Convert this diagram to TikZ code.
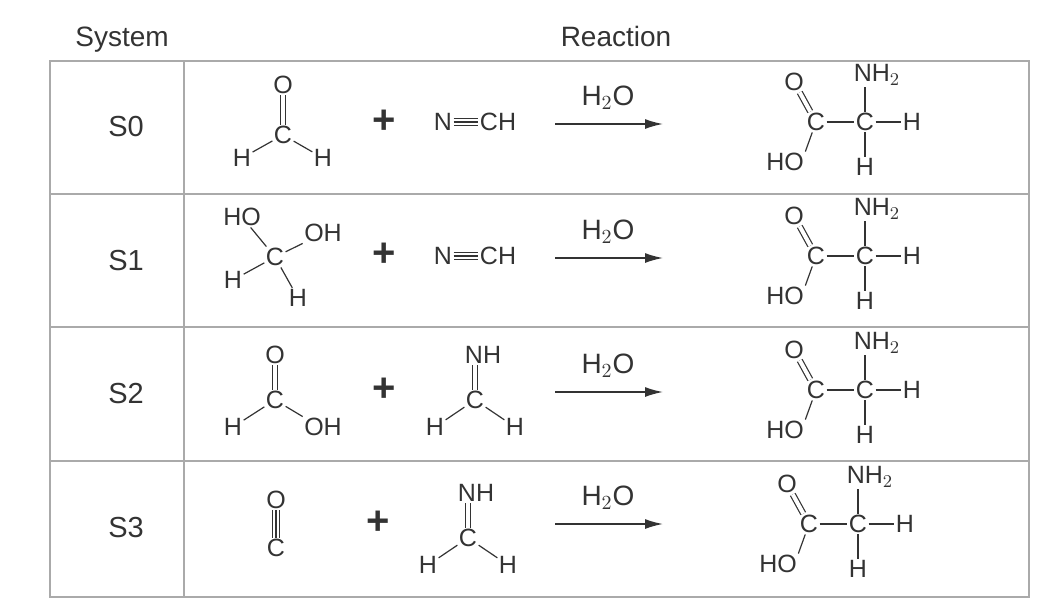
\documentclass[tikz,border=0pt]{standalone}
\usepackage{fontspec}
\setmainfont{Liberation Sans}
\definecolor{ink}{HTML}{333333}
\definecolor{rule}{HTML}{AAAAAA}
\tikzset{
  atom/.style={inner sep=0.6pt, font=\fontsize{12.5}{12.5}\selectfont, text=ink},
  bond/.style={draw=ink, line width=0.6pt},
  dbl/.style={draw=ink, line width=0.6pt, double=white, double distance=2pt},
  tpl/.style={draw=ink, line width=0.6pt, double=white, double distance=3pt},
  head/.style={font=\fontsize{14}{14}\selectfont, text=ink},
  syslabel/.style={font=\fontsize{14.5}{14.5}\selectfont, text=ink},
  plus/.style={font=\fontsize{20}{20}\selectfont\bfseries, text=ink},
  grid/.style={draw=rule, line width=0.6pt}
}
% glycine, placed at the alpha carbon
\newcommand\glycine[1]{%
\begin{scope}[shift={(#1)}]
\node[atom] (ca) at (0,0) {C};
\node[atom] (cc) at (-49,0) {C};
\node[atom] (oo) at (-71,-40) {O};
\node[atom] (ho) at (-80,40) {HO};
\node[atom] (nh) at (12,-47) {NH$_2$};
\node[atom] (hr) at (47,0) {H};
\node[atom] (hb) at (0,45) {H};
\draw[bond] (cc) -- (ca);
\draw[bond] (ca) -- (hr);
\draw[bond] (ca) -- (hb);
\draw[bond] (ca) -- (ca |- nh.south);
\draw[dbl] (cc) -- (oo);
\draw[bond] (cc) -- (ho.north east);
\end{scope}}
% methanimine, placed at the carbon
\newcommand\imine[1]{%
\begin{scope}[shift={(#1)}]
\node[atom] (ic) at (0,0) {C};
\node[atom] (in) at (8,-45) {NH};
\node[atom] (il) at (-40,27) {H};
\node[atom] (ir) at (40,27) {H};
\draw[dbl] (ic) -- (ic |- in.south);
\draw[bond] (ic) -- (il);
\draw[bond] (ic) -- (ir);
\end{scope}}
% water arrow
\newcommand\wateraxis[1]{%
\begin{scope}[shift={(0,#1)}]
\node[head] (w) at (608,-26) {H$_2$O};
\coordinate (wa) at (555,0);
\coordinate (wb) at (663,0);
\draw[draw=ink, line width=0.8pt, -{Latex[length=9pt,width=5pt]}] (wa) -- (wb);
\end{scope}}
\usetikzlibrary{arrows.meta}
\begin{document}
\begin{tikzpicture}[x=0.5pt, y=-0.5pt]
\useasboundingbox (0,0) rectangle (1059,605);
% table
\draw[grid] (50,61) rectangle (1029,597);
\foreach \y in {194,327,461} \draw[grid] (50,\y) -- (1029,\y);
\draw[grid] (184,61) -- (184,597);
\node[head, anchor=base] (hsys) at (122,46) {System};
\node[head, anchor=base] (hrea) at (616,46) {Reaction};
\node[syslabel] (s0) at (126,127) {S0};
\node[syslabel] (s1) at (126,261) {S1};
\node[syslabel] (s2) at (126,394) {S2};
\node[syslabel] (s3) at (126,528) {S3};
% S0
\node[atom] (a0o) at (283,85) {O};
\node[atom] (a0c) at (283,135) {C};
\node[atom] (a0l) at (242,158) {H};
\node[atom] (a0r) at (323,158) {H};
\draw[dbl] (a0c) -- (a0o);
\draw[bond] (a0c) -- (a0l);
\draw[bond] (a0c) -- (a0r);
\node[plus] (p0) at (384,122) {+};
\node[atom] (n0) at (443,122) {N};
\node[atom] (c0) at (498,122) {CH};
\draw[tpl] (n0) -- (c0); \draw[bond] (n0) -- (c0);
\wateraxis{124}
\glycine{865,122}
% S1
\node[atom] (a1c) at (275,257) {C};
\node[atom] (a1a) at (242,217) {HO};
\node[atom] (a1b) at (323,233) {OH};
\node[atom] (a1l) at (233,280) {H};
\node[atom] (a1r) at (298,298) {H};
\draw[bond] (a1c) -- (a1a);
\draw[bond] (a1c) -- (a1b.south west);
\draw[bond] (a1c) -- (a1l);
\draw[bond] (a1c) -- (a1r);
\node[plus] (p1) at (384,255) {+};
\node[atom] (n1) at (443,256) {N};
\node[atom] (c1) at (498,256) {CH};
\draw[tpl] (n1) -- (c1); \draw[bond] (n1) -- (c1);
\wateraxis{258}
\glycine{865,256}
% S2
\node[atom] (a2o) at (275,355) {O};
\node[atom] (a2c) at (275,400) {C};
\node[atom] (a2l) at (233,427) {H};
\node[atom] (a2r) at (323,427) {OH};
\draw[dbl] (a2c) -- (a2o);
\draw[bond] (a2c) -- (a2l);
\draw[bond] (a2c) -- (a2r.north west);
\node[plus] (p2) at (384,390) {+};
\imine{475,400}
\wateraxis{392}
\glycine{865,390}
% S3
\node[atom] (a3o) at (276,500) {O};
\node[atom] (a3c) at (276,548) {C};
\draw[tpl] (a3c) -- (a3o); \draw[bond] (a3c) -- (a3o);
\node[plus] (p3) at (378,523) {+};
\imine{468,538}
\wateraxis{524}
\glycine{858,524}
\end{tikzpicture}
\end{document}
